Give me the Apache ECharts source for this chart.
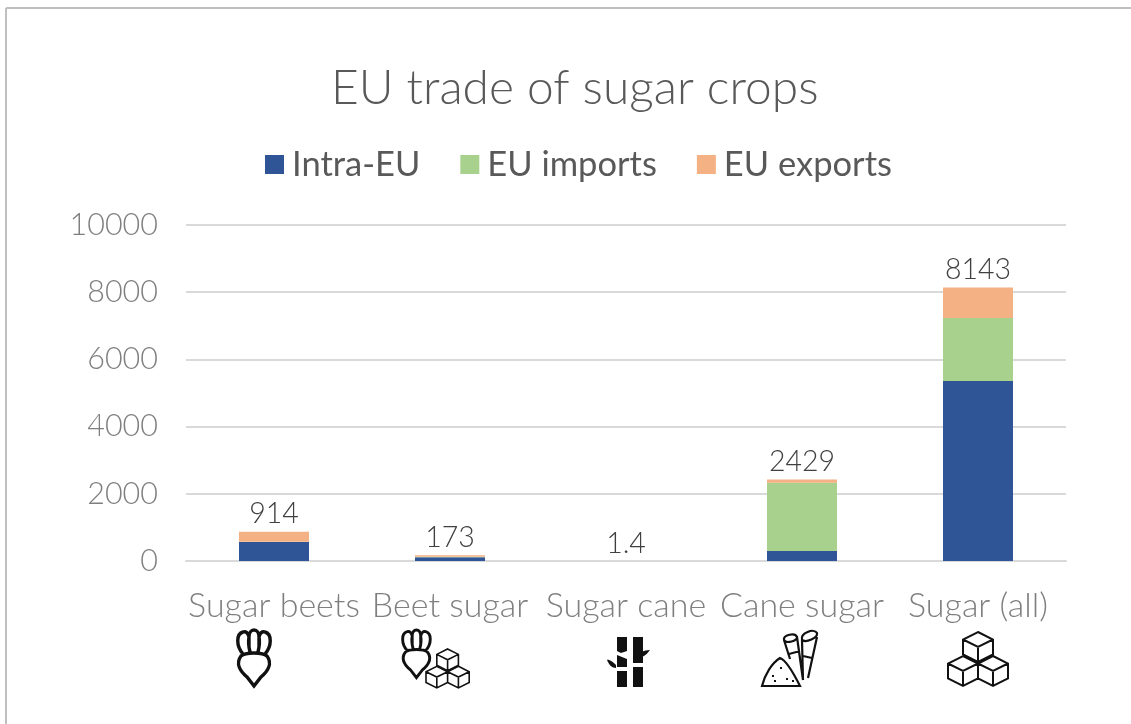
<!DOCTYPE html>
<html><head><meta charset="utf-8">
<style>html,body{margin:0;padding:0;background:#fff}#c{width:1131px;height:724px}</style>
<script src="https://cdn.jsdelivr.net/npm/echarts@6/dist/echarts.min.js"></script></head>
<body><div id="c"></div>
<script>
const titleText = 'EU trade of sugar crops';
const categories = ['Sugar beets','Beet sugar','Sugar cane','Cane sugar','Sugar (all)'];
const intraEU = [565,110,0.9,300,5357];
const euImports = [5,15,0.3,2030,1875];
const euExports = [300,48,0.2,99,911];
const totalLabels = ['914','173','1.4','2429','8143'];

const FONT = 'Lato';
const chart = echarts.init(document.getElementById('c'),null,{renderer:'canvas'});

const beet = 'M4 26C-2 34 4 42 10 47L17 56L24 47C30 42 36 34 30 26C26 22 8 22 4 26ZM6 24C-1 16 -1 4 6 2C9 1 11 3 12 7C12 3 14 0 17 0C20 0 22 3 22 7C23 3 25 1 28 2C35 4 35 16 28 24M12 7C11 12 12 18 13 22M22 7C23 12 22 18 21 22';
function cube(x,y,s){
  const h=s*0.5, v=s;
  return `M${x} ${y}L${x+s} ${y+h}L${x+s} ${y+h+v}L${x} ${y+2*h+v}L${x-s} ${y+h+v}L${x-s} ${y+h}ZM${x-s} ${y+h}L${x} ${y+2*h}L${x+s} ${y+h}M${x} ${y+2*h}L${x} ${y+2*h+v}`;
}
function pile(k){ return cube(30*k,0,15*k)+cube(15*k,24*k,15*k)+cube(45*k,24*k,15*k); }
const bamboo = 'M9 0H19V14L13 16L9 14ZM9 18L19 22V30H9ZM9 34H19V50H9ZM25 0H35V26H25ZM25 30H35V50H25ZM25 22C30 16 36 13 42 13C38 19 32 22 25 22ZM8 28C4 23 -1 22 -1 23C1 28 4 31 8 31Z';
const cane = 'M0 56C3 44 10 33 18 28C24 30 33 46 38 56ZM22 10L28 29M35 7L41 50M22 10C21 5 33 2 35 7C36 11 24 14 22 10ZM40 10L41 50M55 7L46 48M40 10C38 3 52 -2 55 3C56 8 44 13 40 10ZM27 24L38 21M41 26L50 28M10 46h2M18 38h2M24 49h2M12 51h2M30 51h2';

// each category's pictogram: [pathData, dx from category centre, top y offset below axis, stroke width, filled, scale]
const icons = [
  [[beet,-37,69,3.4,false,1]],
  [[beet,-48,69,3.4,false,0.85],[pile(0.72),-24,88,1.6,false,1]],
  [[bamboo,-18,76,0,true,1]],
  [[cane,-40,69,2.2,false,1]],
  [[pile(1),-30,71,2,false,1]]
];

chart.setOption({
  animation:false,
  backgroundColor:'#fff',
  title:{text:titleText,left:326,top:60,textStyle:{fontFamily:FONT,fontWeight:300,fontSize:47.9,color:'#595959'}},
  legend:{top:142,left:260,itemWidth:19,itemHeight:19,itemGap:40,icon:'rect',
    textStyle:{fontFamily:FONT,fontSize:34.5,color:'#595959',fontWeight:400,padding:[0,0,0,3]},
    data:['Intra-EU','EU imports','EU exports']},
  grid:{left:186,right:65,top:225,height:336},
  xAxis:{type:'category',data:categories,axisTick:{show:false},
    axisLine:{lineStyle:{color:'#d9d9d9',width:2}},
    axisLabel:{fontFamily:FONT,fontWeight:300,fontSize:34,color:'#7f7f7f',margin:28,interval:0}},
  yAxis:{type:'value',min:0,max:10000,interval:2000,axisLine:{show:false},axisTick:{show:false},
    splitLine:{lineStyle:{color:'#d9d9d9',width:2}},
    axisLabel:{fontFamily:FONT,fontWeight:300,fontSize:30.5,color:'#7f7f7f',margin:28,formatter:v=>String(v)}},
  series:[
    {name:'Intra-EU',type:'bar',stack:'t',barWidth:70,data:intraEU,itemStyle:{color:'#2f5597'}},
    {name:'EU imports',type:'bar',stack:'t',data:euImports,itemStyle:{color:'#a9d18e'}},
    {name:'EU exports',type:'bar',stack:'t',data:euExports,itemStyle:{color:'#f4b183'},
      label:{show:true,position:'top',distance:3,fontFamily:FONT,fontWeight:300,fontSize:28.5,color:'#404040',
        formatter:p=>totalLabels[p.dataIndex]}},
    {type:'custom',silent:true,clip:false,data:categories.map((c,i)=>[i,0]),
      encode:{x:0,y:1},
      renderItem:(params,api)=>{
        const p=api.coord([api.value(0),0]);
        return {type:'group',children:icons[params.dataIndex].map(ic=>({
          type:'path',x:p[0]+ic[1],y:p[1]+ic[2],scaleX:ic[5],scaleY:ic[5],
          shape:{pathData:ic[0]},
          style:ic[4]?{fill:'#111',stroke:null}:{fill:null,stroke:'#111',lineWidth:ic[3]}
        }))};
      }}
  ],
  graphic:[
    {type:'line',silent:true,shape:{x1:6,y1:8,x2:1131,y2:8},style:{stroke:'#bfbfbf',lineWidth:2}},
    {type:'line',silent:true,shape:{x1:6,y1:8,x2:6,y2:724},style:{stroke:'#bfbfbf',lineWidth:2}}
  ]
});
</script></body></html>
